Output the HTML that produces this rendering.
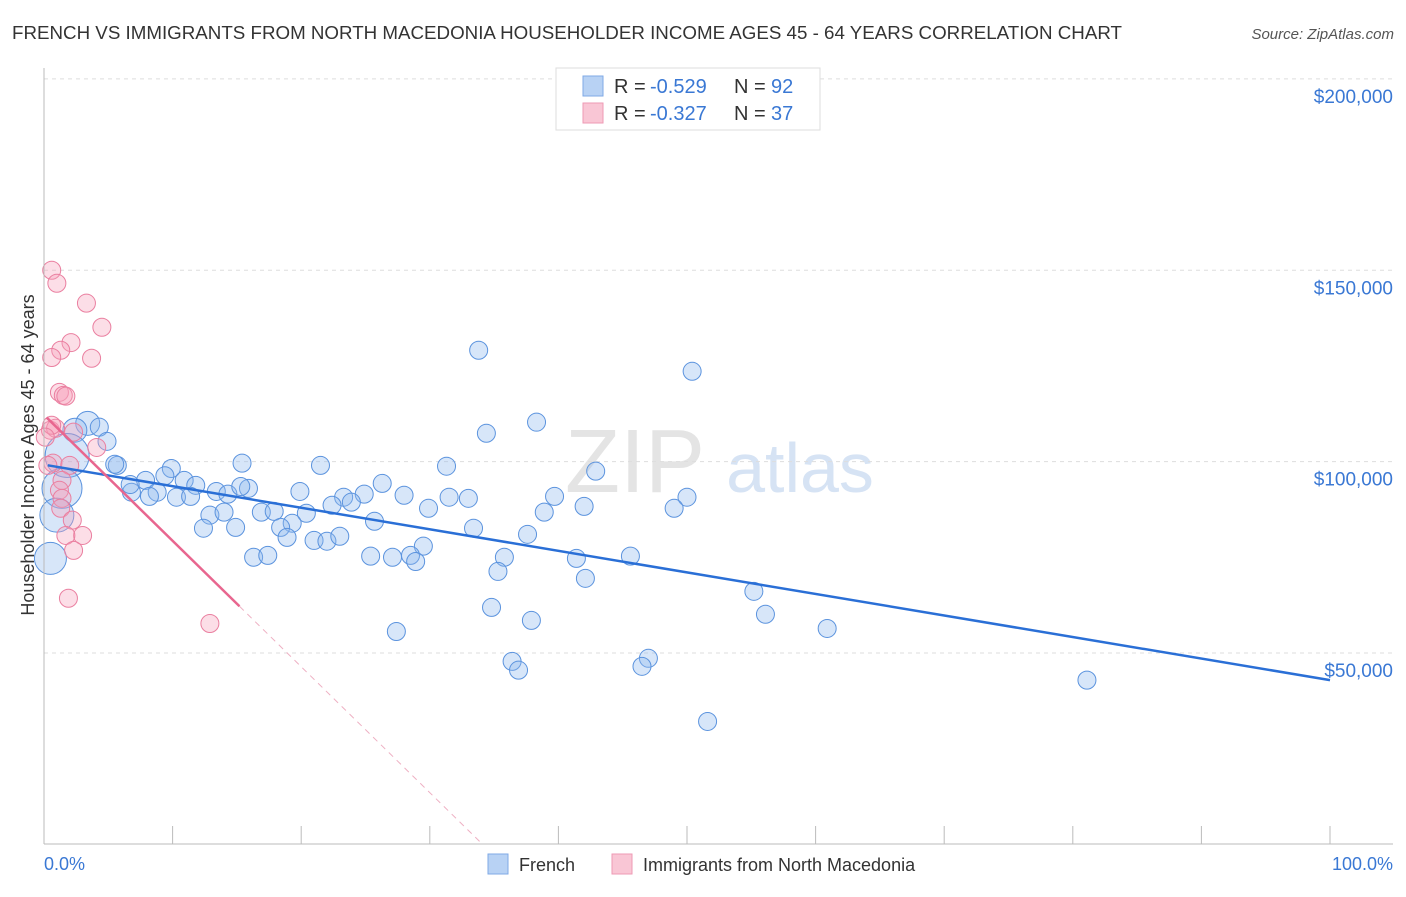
<!DOCTYPE html>
<html><head><meta charset="utf-8"><style>
body{margin:0;background:#fff;font-family:"Liberation Sans",sans-serif}
svg text{font-family:"Liberation Sans",sans-serif}
</style></head><body>
<svg id="c" width="1406" height="892">
<text x="12" y="39" font-size="18" fill="#333" textLength="1110" lengthAdjust="spacingAndGlyphs">FRENCH VS IMMIGRANTS FROM NORTH MACEDONIA HOUSEHOLDER INCOME AGES 45 - 64 YEARS CORRELATION CHART</text>
<text x="1394" y="39" font-size="15" fill="#555" font-style="italic" text-anchor="end">Source: ZipAtlas.com</text>
<text x="34" y="455" font-size="18" fill="#333" text-anchor="middle" transform="rotate(-90 34 455)">Householder Income Ages 45 - 64 years</text>
<text x="635" y="492" font-size="90" fill="#e4e4e4" font-family="Liberation Serif" text-anchor="middle">ZIP</text>
<text x="800" y="492" font-size="70" fill="#d6e3f4" text-anchor="middle">atlas</text>
<g id="grid"></g><g id="pts"></g><g id="lines"></g>
<line x1="44" y1="68" x2="44" y2="844" stroke="#bbb"/>
<line x1="44" y1="844" x2="1393" y2="844" stroke="#bbb"/>
<text x="44" y="870" font-size="18" fill="#3a78d4">0.0%</text>
<text x="1393" y="870" font-size="18" fill="#3a78d4" text-anchor="end">100.0%</text>
<g>
<rect x="556" y="68" width="264" height="62" fill="#fff" stroke="#ddd"/>
<rect x="583" y="76" width="20" height="20" fill="#b8d2f4" stroke="#7fa9e6"/>
<rect x="583" y="103" width="20" height="20" fill="#f9c6d5" stroke="#ee9ab4"/>
<text x="614" y="93" font-size="20" fill="#333">R =</text>
<text x="650" y="93" font-size="20" fill="#3a78d4">-0.529</text>
<text x="734" y="93" font-size="20" fill="#333">N =</text>
<text x="771" y="93" font-size="20" fill="#3a78d4">92</text>
<text x="614" y="120" font-size="20" fill="#333">R =</text>
<text x="650" y="120" font-size="20" fill="#3a78d4">-0.327</text>
<text x="734" y="120" font-size="20" fill="#333">N =</text>
<text x="771" y="120" font-size="20" fill="#3a78d4">37</text>
</g>
<g>
<rect x="488" y="854" width="20" height="20" fill="#b8d2f4" stroke="#7fa9e6"/>
<text x="519" y="871" font-size="18" fill="#333">French</text>
<rect x="612" y="854" width="20" height="20" fill="#f9c6d5" stroke="#ee9ab4"/>
<text x="643" y="871" font-size="18" fill="#333">Immigrants from North Macedonia</text>
</g>
</svg>
<script>
const yTicks=[50,100,150,200];
const yTickLabels=["$50,000","$100,000","$150,000","$200,000"];
const xTicks=[0,10,20,30,40,50,60,70,80,90,100];
const frenchX=[33.8,50.4,38.3,34.4,3.4,2.4,4.3,4.9,1.8,5.7,15.4,21.5,31.3,42.9,9.9,9.4,7.9,10.9,26.3,1.4,15.9,19.9,24.9,28,31.5,39.7,50,6.8,8.8,11.8,13.4,14.3,10.3,8.2,11.4,23.3,23.9,33,22.4,29.9,42,49,12.9,14,16.9,17.9,20.4,25.7,38.9,19.3,18.4,14.9,12.4,33.4,37.6,18.9,21,22,23,29.5,28.5,16.3,17.4,25.4,27.1,28.9,35.8,41.4,45.6,35.3,42.1,55.2,34.8,56.1,37.9,60.9,27.4,36.4,36.9,47,46.5,81.1,51.6,0.5,1,5.5,6.7,15.3];
const frenchY=[129.1,123.6,110.3,107.4,110,108.2,109,105.3,101.6,99,99.6,99,98.8,97.5,98.2,96.3,95.1,95.1,94.3,93,93,92.2,91.5,91.2,90.7,90.9,90.7,92,92,93.8,92.2,91.5,90.7,90.9,90.9,90.7,89.4,90.4,88.6,87.8,88.3,87.8,86,86.8,86.8,87,86.5,84.4,86.8,83.9,82.8,82.8,82.6,82.6,81,80.2,79.4,79.2,80.5,77.9,75.5,75,75.5,75.3,75,73.9,75,74.7,75.3,71.3,69.5,66.1,61.9,60.1,58.5,56.4,55.6,47.8,45.5,48.6,46.5,42.9,32.1,74.7,86,99.3,94,93.5];
const frenchR=[9,9,9,9,12,12,9,9,22,9,9,9,9,9,9,9,9,9,9,20,9,9,9,9,9,9,9,9,9,9,9,9,9,9,9,9,9,9,9,9,9,9,9,9,9,9,9,9,9,9,9,9,9,9,9,9,9,9,9,9,9,9,9,9,9,9,9,9,9,9,9,9,9,9,9,9,9,9,9,9,9,9,9,16,17,9,9,9];
const macX=[0.6,1,3.3,4.5,2.1,1.3,0.6,3.7,1.2,1.5,1.7,0.5,0.9,0.6,2.3,4.1,0.7,2,1.4,1.2,1.4,1.3,2.2,3,1.7,2.3,1.9,12.9,0.1,0.3];
const macY=[150,146.6,141.4,135.1,131.1,129.1,127.2,127,118.1,117.3,117.1,108.2,108.7,109.5,107.7,103.7,99.6,99,95.1,92.5,90.4,87.8,84.7,80.7,80.7,76.8,64.3,57.7,106.4,99];
const frenchLine=[99.2,42.9];
const macLine=[112.2,-3.29];
const X=v=>44+v*12.86, Y=v=>844.3-v*3.827;
const NS="http://www.w3.org/2000/svg";
function mk(t,a,p){const e=document.createElementNS(NS,t);for(const k in a)e.setAttribute(k,a[k]);p.appendChild(e);return e;}
const grid=document.getElementById('grid');
yTicks.forEach((v,i)=>{
 const l=mk('line',{x1:44,x2:1393,y1:Y(v),y2:Y(v),stroke:'#ddd','stroke-dasharray':'4 4'},grid);
 
 
 const t=mk('text',{x:1393,y:Y(v)+24,'font-size':19,fill:'#3a78d4','text-anchor':'end'},grid);
 t.textContent=yTickLabels[i];
 
 
});
xTicks.forEach(v=>{
 const l=mk('line',{x1:X(v),x2:X(v),y1:826,y2:844,stroke:'#bbb'},grid);
 
 
});
const pts=document.getElementById('pts');
frenchX.forEach((x,i)=>{
 const c=mk('circle',{cx:X(x),cy:Y(frenchY[i]),r:frenchR[i]||9,fill:'rgba(140,182,238,0.35)',stroke:'#5b93de','stroke-width':1},pts);
 
 
});
macX.forEach((x,i)=>{
 const c=mk('circle',{cx:X(x),cy:Y(macY[i]),r:9,fill:'rgba(245,160,186,0.35)',stroke:'#ea7fa0','stroke-width':1},pts);
 
 
});
const ln=document.getElementById('lines');
let l1=mk('line',{x1:X(0.3),y1:Y(frenchLine[0]+(frenchLine[1]-frenchLine[0])*0.003),x2:X(100),y2:Y(frenchLine[1]),stroke:'#2a6fd6','stroke-width':2.5},ln);


const mY=x=>macLine[0]+macLine[1]*x;
const mEnd=-macLine[0]/macLine[1];
let l2=mk('line',{x1:X(0.2),y1:Y(mY(0.2)),x2:X(15.2),y2:Y(mY(15.2)),stroke:'#e8668f','stroke-width':2.5},ln);


let l3=mk('line',{x1:X(15.2),y1:Y(mY(15.2)),x2:X(mEnd),y2:Y(0),stroke:'#eeb0c3','stroke-width':1,'stroke-dasharray':'6 5'},ln);


</script>
</body></html>
